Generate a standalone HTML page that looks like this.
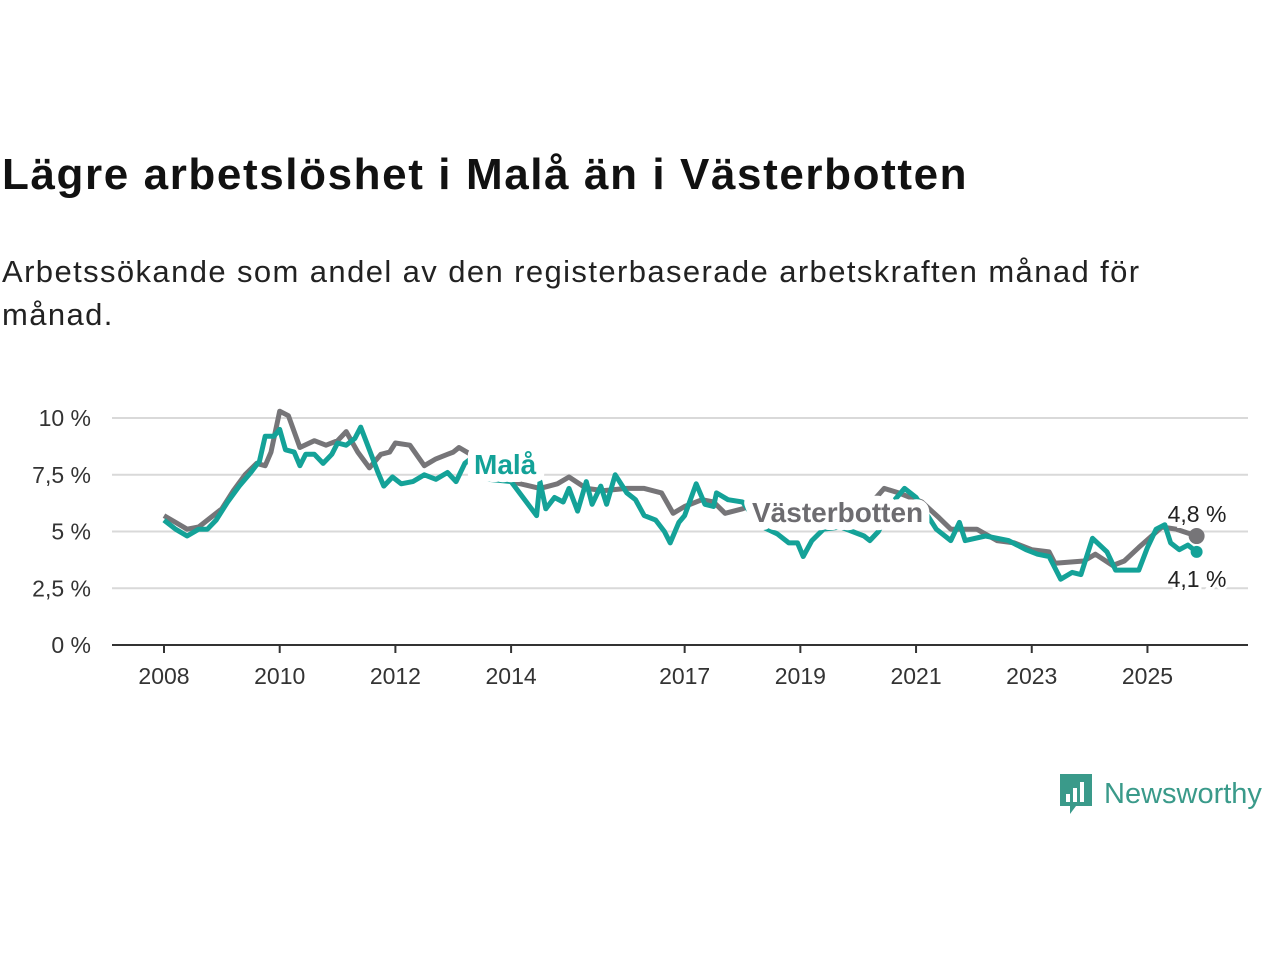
<!DOCTYPE html>
<html><head><meta charset="utf-8"><style>
body{margin:0;background:#fff;width:1280px;height:960px;overflow:hidden;font-family:"Liberation Sans",sans-serif}
h1{position:absolute;left:2px;top:150px;margin:0;font-size:44px;font-weight:bold;color:#111;letter-spacing:1.6px;white-space:nowrap}
p{position:absolute;left:2px;top:250px;margin:0;font-size:31px;line-height:43px;color:#222;width:1250px;letter-spacing:1.4px}
</style></head><body>
<h1>Lägre arbetslöshet i Malå än i Västerbotten</h1>
<p>Arbetssökande som andel av den registerbaserade arbetskraften månad för<br>månad.</p>
<svg id="chart" width="1280" height="960" style="position:absolute;left:0;top:0"></svg>
<div style="position:absolute;left:1058px;top:772px;display:flex;align-items:center">
<svg width="36" height="44"><path d="M2 2h32v32H18l-6 8v-8H2z" fill="#3a9a8a"/><rect x="8" y="22" width="4" height="8" fill="#fff"/><rect x="15" y="16" width="4" height="14" fill="#fff"/><rect x="22" y="10" width="4" height="20" fill="#fff"/></svg>
<span style="font-size:29px;color:#3a9a8a;margin-left:10px">Newsworthy</span></div>
<script>
const yTicks=[0,2.5,5,7.5,10];
const yTickLabels=["0 %","2,5 %","5 %","7,5 %","10 %"];
const xTicks=[2008,2010,2012,2014,2017,2019,2021,2023,2025];
const vbYears=[2008,2008.2,2008.4,2008.6,2008.8,2009,2009.2,2009.4,2009.6,2009.75,2009.85,2010,2010.15,2010.35,2010.6,2010.8,2011,2011.15,2011.35,2011.55,2011.75,2011.9,2012,2012.25,2012.5,2012.7,2012.9,2013,2013.1,2013.3,2013.6,2014,2014.5,2014.8,2015,2015.3,2015.6,2016,2016.3,2016.6,2016.8,2017,2017.3,2017.5,2017.7,2018,2018.3,2018.8,2019.3,2019.7,2020,2020.45,2020.7,2021.1,2021.4,2021.6,2022.05,2022.4,2022.7,2023,2023.3,2023.4,2023.9,2024.1,2024.4,2024.6,2024.85,2025.25,2025.5,2025.85];
const vbValues=[5.7,5.4,5.1,5.2,5.6,6.0,6.8,7.5,8.0,7.9,8.5,10.3,10.1,8.7,9.0,8.8,9.0,9.4,8.5,7.8,8.4,8.5,8.9,8.8,7.9,8.2,8.4,8.5,8.7,8.4,7.8,7.2,6.9,7.1,7.4,6.9,6.8,6.9,6.9,6.7,5.8,6.1,6.4,6.3,5.8,6.0,6.3,5.8,5.5,5.3,5.6,6.9,6.7,6.3,5.6,5.1,5.1,4.6,4.5,4.2,4.1,3.6,3.7,4.0,3.5,3.7,4.3,5.2,5.1,4.8];
const malaYears=[2008,2008.2,2008.4,2008.6,2008.75,2008.9,2009.1,2009.3,2009.5,2009.65,2009.75,2009.9,2010,2010.1,2010.25,2010.35,2010.45,2010.6,2010.75,2010.9,2011,2011.15,2011.3,2011.4,2011.55,2011.7,2011.8,2011.95,2012.1,2012.3,2012.5,2012.7,2012.9,2013.05,2013.2,2013.35,2013.6,2014,2014.44,2014.5,2014.6,2014.75,2014.9,2015,2015.15,2015.3,2015.4,2015.55,2015.65,2015.8,2016,2016.15,2016.3,2016.5,2016.65,2016.75,2016.9,2017,2017.2,2017.35,2017.5,2017.55,2017.75,2018,2018.15,2018.35,2018.6,2018.8,2018.95,2019.05,2019.2,2019.4,2019.7,2019.9,2020.1,2020.2,2020.35,2020.6,2020.8,2021,2021.35,2021.6,2021.75,2021.85,2022.2,2022.6,2022.9,2023.1,2023.3,2023.5,2023.7,2023.85,2024.05,2024.3,2024.45,2024.85,2025,2025.15,2025.3,2025.4,2025.55,2025.7,2025.85];
const malaValues=[5.5,5.1,4.8,5.1,5.1,5.5,6.3,7.0,7.6,8.1,9.2,9.2,9.5,8.6,8.5,7.9,8.4,8.4,8.0,8.4,8.9,8.8,9.1,9.6,8.6,7.6,7.0,7.4,7.1,7.2,7.5,7.3,7.6,7.2,8.0,8.3,7.3,7.2,5.7,7.2,6.0,6.5,6.3,6.9,5.9,7.2,6.2,7.0,6.2,7.5,6.7,6.4,5.7,5.5,5.0,4.5,5.4,5.7,7.1,6.2,6.1,6.7,6.4,6.3,5.8,5.2,4.9,4.5,4.5,3.9,4.6,5.1,5.2,5.0,4.8,4.6,5.0,6.3,6.9,6.5,5.1,4.6,5.4,4.6,4.8,4.6,4.2,4.0,3.9,2.9,3.2,3.1,4.7,4.1,3.3,3.3,4.3,5.1,5.3,4.5,4.2,4.4,4.1];
const NS="http://www.w3.org/2000/svg",svg=document.getElementById('chart');
const x=v=>164+(v-2008)*57.85, y=v=>645-v*22.7;
function mk(t,a,p){const e=document.createElementNS(NS,t);for(const k in a)e.setAttribute(k,a[k]);(p||svg).appendChild(e);return e;}
yTicks.forEach((t,i)=>{
 if(t>0){const g=mk('line',{x1:112,x2:1248,y1:y(t),y2:y(t),stroke:'#d9d9d9','stroke-width':2});
 
 }
 const l=mk('text',{x:91,y:y(t)+8,'text-anchor':'end','font-size':23,fill:'#333'});l.textContent=yTickLabels[i];
 
 
});
const ax=mk('line',{x1:112,x2:1248,y1:645,y2:645,stroke:'#333','stroke-width':2});


xTicks.forEach(t=>{
 const tk=mk('line',{x1:x(t),x2:x(t),y1:645,y2:653,stroke:'#333','stroke-width':2});
 
 
 const l=mk('text',{x:x(t),y:684,'text-anchor':'middle','font-size':23,fill:'#333'});l.textContent=t;
 
 
});
function line(xs,vs,c,name){
 const d=xs.map((t,i)=>(i?'L':'M')+x(t).toFixed(1)+','+y(vs[i]).toFixed(1)).join('');
 const p=mk('path',{d:d,fill:'none',stroke:c,'stroke-width':5,'stroke-linejoin':'round'});
 
 
}
line(vbYears,vbValues,'#767578','vasterbotten-line');
line(malaYears,malaValues,'#14a298','mala-line');
function lab(tx,px,py,c,name,fs){const t=mk('text',{x:px,y:py,'font-size':fs,'font-weight':'bold',fill:c,stroke:'#fff','stroke-width':16,'stroke-linejoin':'round','paint-order':'stroke'});t.textContent=tx;
 
 }
lab('Malå',474,474,'#14a298','mala-label',28);
lab('Västerbotten',752,522,'#6d6c70','vasterbotten-label',28);
const lv=vbValues[vbValues.length-1], lm=malaValues[malaValues.length-1];
const d1=mk('circle',{cx:x(vbYears[vbYears.length-1]),cy:y(lv),r:8,fill:'#767578'});


const d2=mk('circle',{cx:x(malaYears[malaYears.length-1]),cy:y(lm),r:6,fill:'#14a298'});


function endLab(v,py,name){const t=mk('text',{x:1197,y:py,'text-anchor':'middle','font-size':23,fill:'#222',stroke:'#fff','stroke-width':6,'paint-order':'stroke'});t.textContent=v.toFixed(1).replace('.',',')+' %';
 
 }
endLab(lv,y(lv)-14,'vasterbotten-end-label');
endLab(lm,y(lm)+35,'mala-end-label');
</script>
</body></html>
